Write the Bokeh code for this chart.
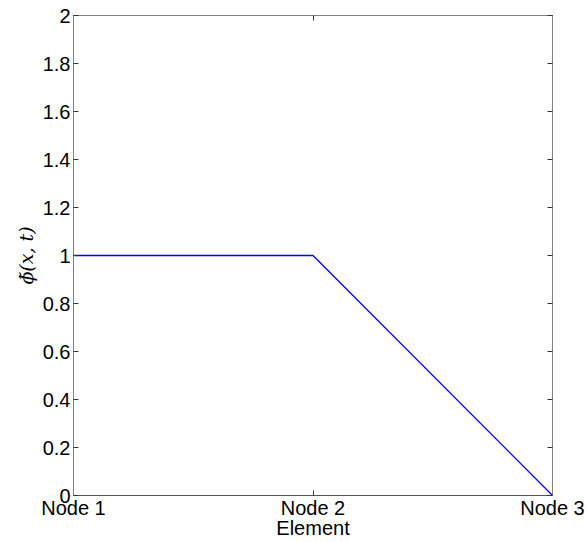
from bokeh.plotting import figure
from bokeh.models import LinearAxis, FixedTicker, CustomJSTickFormatter, Range1d
from bokeh.embed import file_html
from bokeh.resources import INLINE

# data
node_positions = [0, 1, 2]
node_labels = ["Node 1", "Node 2", "Node 3"]
phi_values = [1, 1, 0]
y_ticks = [0, 0.2, 0.4, 0.6, 0.8, 1.0, 1.2, 1.4, 1.6, 1.8, 2.0]

FONT = "Liberation Sans"
FS = "20px"

p = figure(width=586, height=542, output_backend="svg", toolbar_location=None,
           x_range=Range1d(0, 2), y_range=Range1d(0, 2),
           min_border_left=73, min_border_right=34, min_border_top=15, min_border_bottom=47,
           x_axis_location=None, y_axis_location=None)
p.grid.visible = False
p.background_fill_color = "white"
p.border_fill_color = "white"
p.outline_line_color = "#808080"
p.outline_line_width = 1

p.line(node_positions, phi_values, line_color="#0000ff", line_width=1.3)

def style(ax, show_labels):
    ax.major_tick_in = 5
    ax.major_tick_out = 0
    ax.minor_tick_in = 0
    ax.minor_tick_out = 0
    ax.major_tick_line_color = "#333333"
    ax.axis_line_color = "#808080"
    ax.major_label_text_font = FONT
    ax.major_label_text_font_size = FS if show_labels else "0px"
    ax.major_label_text_color = "black"
    ax.major_label_standoff = 3

xb = LinearAxis(ticker=FixedTicker(ticks=node_positions),
                formatter=CustomJSTickFormatter(args=dict(labs=node_labels),
                                                code="return labs[Math.round(tick)];"),
                axis_label="Element")
style(xb, True)
xb.major_label_standoff = 1
xb.axis_label_standoff = -5
xb.axis_label_text_font = FONT
xb.axis_label_text_font_size = FS
xb.axis_label_text_font_style = "normal"
xb.axis_label_text_color = "black"
xb.axis_line_color = "#555555"
p.add_layout(xb, "below")

yl = LinearAxis(ticker=FixedTicker(ticks=y_ticks),
                formatter=CustomJSTickFormatter(code="return Number(tick.toFixed(1)).toString();"),
                axis_label="ϕ̃(x, t)")
style(yl, True)
yl.axis_label_standoff = 3
yl.axis_label_text_font = "DejaVu Serif"
yl.axis_label_text_font_size = "19px"
yl.axis_label_text_font_style = "italic"
yl.axis_label_text_color = "black"
p.add_layout(yl, "left")

xt = LinearAxis(ticker=FixedTicker(ticks=node_positions),
                formatter=CustomJSTickFormatter(code="return '';"))
style(xt, False)
xt.major_label_standoff = 0
p.add_layout(xt, "above")

yr = LinearAxis(ticker=FixedTicker(ticks=y_ticks),
                formatter=CustomJSTickFormatter(code="return '';"))
style(yr, False)
yr.major_label_standoff = 0
p.add_layout(yr, "right")

open("out.html", "w").write(file_html(p, INLINE))
